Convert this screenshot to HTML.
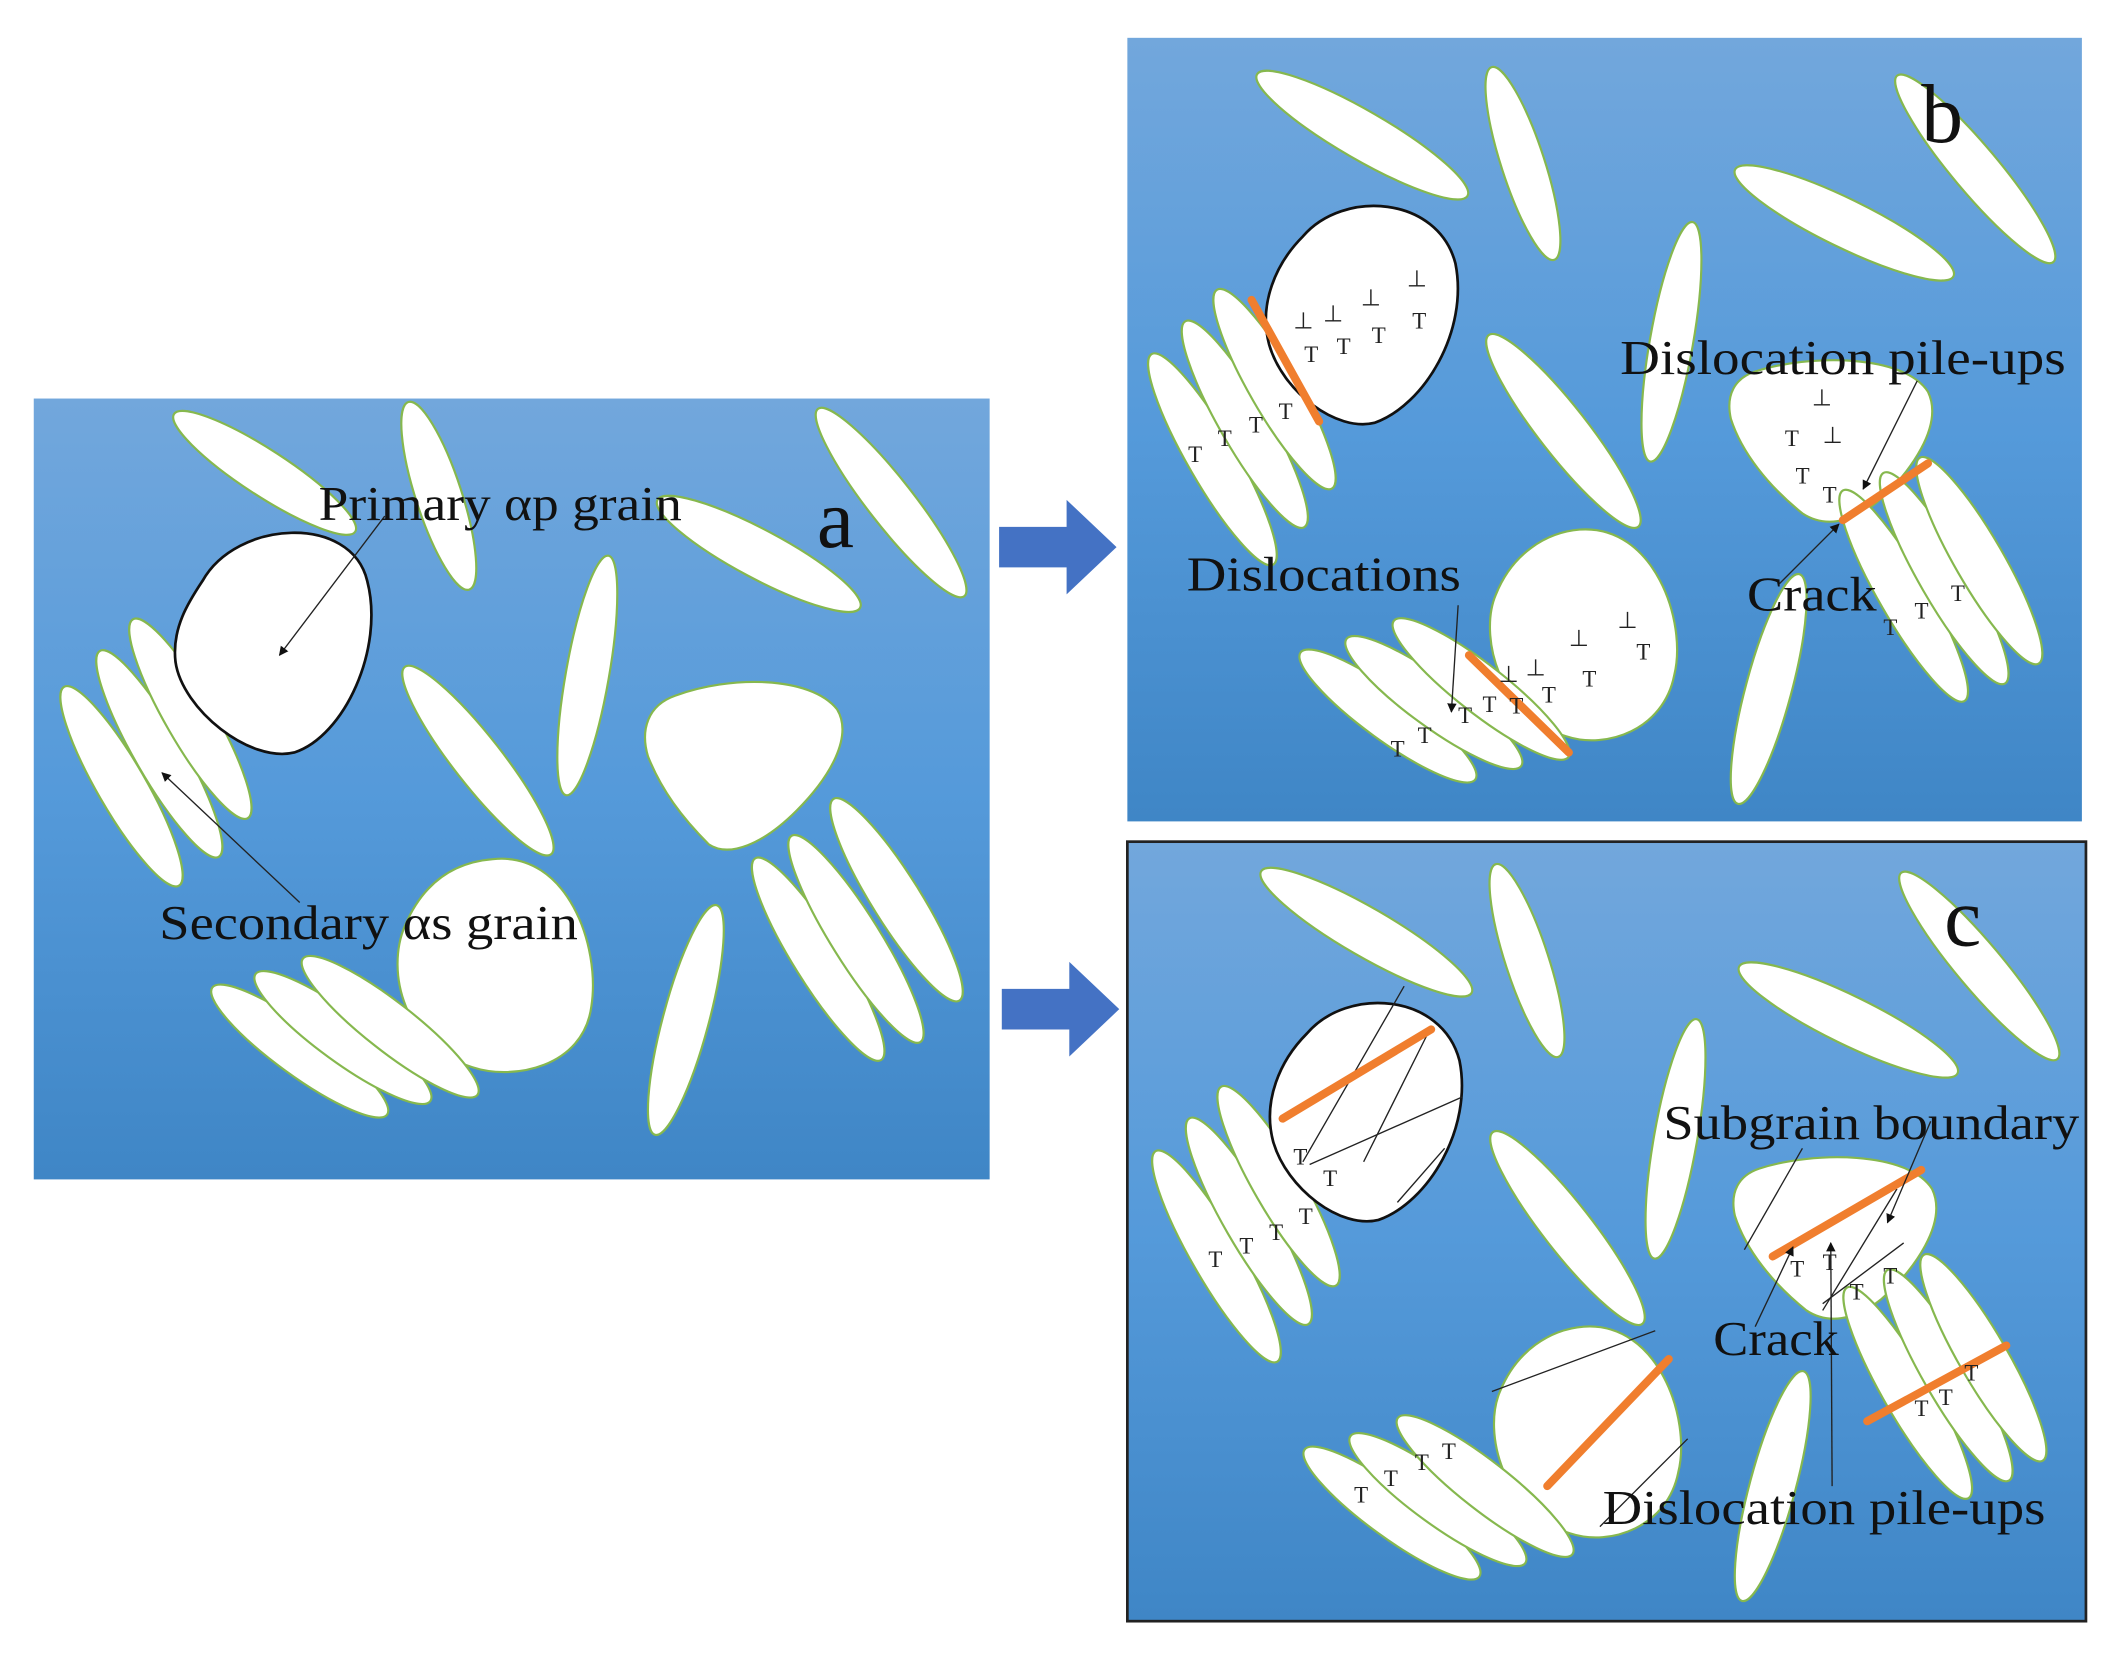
<!DOCTYPE html>
<html><head><meta charset="utf-8"><style>
html,body{margin:0;padding:0;background:#fff;width:2117px;height:1659px;overflow:hidden}
svg{display:block}
.g{fill:#fff;stroke:#86b84e;stroke-width:1.6}
.k{fill:#fff;stroke:#111;stroke-width:2}
.o{stroke:#f07e2e;stroke-width:6;stroke-linecap:round}
.t{font-family:"Liberation Serif",serif;fill:#111}
.d{font-family:"Liberation Serif",serif;fill:#222;font-size:17px}
.l{stroke:#222;stroke-width:1}
</style></head><body>
<svg width="2117" height="1659" viewBox="0 0 1568 1228" preserveAspectRatio="none">
<defs>
<linearGradient id="bg" x1="0" y1="0" x2="0" y2="1">
<stop offset="0" stop-color="#72a7dc"/><stop offset="0.5" stop-color="#559ada"/><stop offset="1" stop-color="#3f86c6"/>
</linearGradient>
<marker id="ah" viewBox="0 0 10 10" refX="9" refY="5" markerWidth="7" markerHeight="7" orient="auto"><path d="M0,0 L10,5 L0,10 z" fill="#111"/></marker>
<g id="base">
<ellipse class="g" transform="translate(1009,100) rotate(30)" rx="90" ry="18"/>
<ellipse class="g" transform="translate(1128,121) rotate(72)" rx="75" ry="16"/>
<ellipse class="g" transform="translate(1366,165) rotate(26)" rx="90" ry="18"/>
<ellipse class="g" transform="translate(1463,125) rotate(50)" rx="90" ry="17"/>
<ellipse class="g" transform="translate(1238,253) rotate(100)" rx="90" ry="16"/>
<ellipse class="g" transform="translate(1158,319) rotate(52)" rx="90" ry="18"/>
<ellipse class="g" transform="translate(898,340) rotate(60)" rx="90" ry="18"/>
<ellipse class="g" transform="translate(922,314) rotate(60)" rx="88" ry="18"/>
<ellipse class="g" transform="translate(944,288) rotate(60)" rx="85" ry="18"/>
<path class="k" d="M965,175 C995,140 1065,145 1078,195 C1088,245 1055,300 1018,313 C990,320 950,290 940,255 C932,225 945,195 965,175 Z"/>
<path class="g" d="M1170,392 C1225,388 1250,460 1240,500 C1232,540 1190,555 1160,545 C1110,530 1095,470 1108,440 C1120,410 1145,394 1170,392 Z"/>
<ellipse class="g" transform="translate(1028,530) rotate(36)" rx="80" ry="18"/>
<ellipse class="g" transform="translate(1062,520) rotate(36)" rx="80" ry="18"/>
<ellipse class="g" transform="translate(1097,510) rotate(38)" rx="82" ry="18"/>
<path class="g" d="M1300,275 C1340,262 1410,262 1428,290 C1440,315 1415,350 1390,372 C1370,388 1350,390 1335,380 C1310,360 1290,335 1282,310 C1278,292 1285,280 1300,275 Z"/>
<ellipse class="g" transform="translate(1410,441) rotate(60)" rx="90" ry="18"/>
<ellipse class="g" transform="translate(1440,428) rotate(60)" rx="90" ry="18"/>
<ellipse class="g" transform="translate(1466,415) rotate(60)" rx="88" ry="18"/>
<ellipse class="g" transform="translate(1310,510) rotate(105)" rx="88" ry="17"/>
</g>
</defs>

<!-- panel a -->
<rect x="25" y="295" width="708" height="578" fill="url(#bg)"/>
<ellipse class="g" transform="translate(196,350) rotate(33)" rx="80" ry="17"/>
<ellipse class="g" transform="translate(325,367) rotate(72)" rx="73" ry="17"/>
<ellipse class="g" transform="translate(562,410) rotate(28)" rx="85" ry="18"/>
<ellipse class="g" transform="translate(660,372) rotate(52)" rx="88" ry="17"/>
<ellipse class="g" transform="translate(435,500) rotate(100)" rx="90" ry="16"/>
<ellipse class="g" transform="translate(354,563) rotate(52)" rx="88" ry="18"/>
<ellipse class="g" transform="translate(90,582) rotate(60)" rx="85" ry="18"/>
<ellipse class="g" transform="translate(118,558) rotate(60)" rx="88" ry="18"/>
<ellipse class="g" transform="translate(141,532) rotate(60)" rx="85" ry="18"/>
<path class="k" d="M150,430 C175,385 260,380 272,430 C285,480 255,545 218,557 C185,565 135,525 130,490 C127,465 140,445 150,430 Z"/>
<path class="g" d="M365,636 C420,630 445,700 438,745 C432,790 380,800 350,790 C300,775 285,720 300,685 C315,650 340,638 365,636 Z"/>
<ellipse class="g" transform="translate(222,778) rotate(36)" rx="80" ry="18"/>
<ellipse class="g" transform="translate(254,768) rotate(36)" rx="80" ry="18"/>
<ellipse class="g" transform="translate(289,760) rotate(38)" rx="82" ry="18"/>
<path class="g" d="M500,515 C540,500 600,500 620,525 C632,545 615,575 590,600 C565,625 540,635 525,625 C505,605 490,585 480,560 C474,540 480,522 500,515 Z"/>
<ellipse class="g" transform="translate(606,710) rotate(58)" rx="88" ry="18"/>
<ellipse class="g" transform="translate(634,695) rotate(58)" rx="90" ry="18"/>
<ellipse class="g" transform="translate(664,666) rotate(58)" rx="88" ry="18"/>
<ellipse class="g" transform="translate(508,755) rotate(105)" rx="88" ry="17"/>
<line class="l" x1="285" y1="382" x2="207" y2="485" marker-end="url(#ah)"/>
<line class="l" x1="222" y1="668" x2="120" y2="572" marker-end="url(#ah)"/>
<text class="t" x="236" y="385" font-size="36" textLength="269" lengthAdjust="spacingAndGlyphs">Primary αp grain</text>
<text class="t" x="118" y="695" font-size="36" textLength="310" lengthAdjust="spacingAndGlyphs">Secondary αs grain</text>
<text class="t" x="605" y="405" font-size="62">a</text>

<!-- arrows -->
<path d="M740,390 H790 V370 L827,405 L790,440 V420 H740 Z" fill="#4472c4"/>
<path d="M742,732 H792 V712 L829,747 L792,782 V762 H742 Z" fill="#4472c4"/>

<!-- panel b -->
<rect x="835" y="28" width="707" height="580" fill="url(#bg)"/>
<use href="#base"/>
<line class="o" x1="927" y1="222" x2="977" y2="312"/>
<line class="o" x1="1088" y1="485" x2="1162" y2="557"/>
<line class="o" x1="1365" y1="385" x2="1428" y2="343"/>
<g class="d">
<text x="958" y="243">⊥</text><text x="980" y="238">⊥</text><text x="1008" y="226">⊥</text><text x="1042" y="212">⊥</text>
<text x="966" y="268">T</text><text x="990" y="262">T</text><text x="1016" y="254">T</text><text x="1046" y="243">T</text>
<text x="880" y="342">T</text><text x="902" y="330">T</text><text x="925" y="320">T</text><text x="947" y="310">T</text>
<text x="1110" y="505">⊥</text><text x="1130" y="500">⊥</text><text x="1162" y="478">⊥</text><text x="1198" y="465">⊥</text>
<text x="1118" y="528">T</text><text x="1142" y="520">T</text><text x="1172" y="508">T</text><text x="1212" y="488">T</text>
<text x="1030" y="560">T</text><text x="1050" y="550">T</text><text x="1080" y="535">T</text><text x="1098" y="527">T</text>
<text x="1342" y="300">⊥</text><text x="1322" y="330">T</text><text x="1350" y="328">⊥</text><text x="1330" y="358">T</text><text x="1350" y="372">T</text>
<text x="1395" y="470">T</text><text x="1418" y="458">T</text><text x="1445" y="445">T</text>
</g>
<line class="l" x1="1420" y1="282" x2="1380" y2="362" marker-end="url(#ah)"/>
<line class="l" x1="1318" y1="432" x2="1362" y2="388" marker-end="url(#ah)"/>
<line class="l" x1="1080" y1="448" x2="1075" y2="527" marker-end="url(#ah)"/>
<text class="t" x="1200" y="277" font-size="36" textLength="330" lengthAdjust="spacingAndGlyphs">Dislocation pile-ups</text>
<text class="t" x="1294" y="452" font-size="36" textLength="96" lengthAdjust="spacingAndGlyphs">Crack</text>
<text class="t" x="879" y="437" font-size="36" textLength="203" lengthAdjust="spacingAndGlyphs">Dislocations</text>
<text class="t" x="1423" y="105" font-size="62">b</text>

<!-- panel c -->
<rect x="835" y="623" width="710" height="577" fill="url(#bg)" stroke="#222" stroke-width="2"/>
<use href="#base" transform="translate(3,590)"/>
<line class="l" x1="1040" y1="730" x2="965" y2="860"/>
<line class="l" x1="1060" y1="760" x2="1010" y2="860"/>
<line class="l" x1="1083" y1="812" x2="970" y2="862"/>
<line class="l" x1="1070" y1="850" x2="1035" y2="890"/>
<line class="o" x1="950" y1="828" x2="1060" y2="762"/>
<line class="l" x1="1335" y1="850" x2="1292" y2="925"/>
<line class="l" x1="1405" y1="880" x2="1350" y2="970"/>
<line class="l" x1="1350" y1="965" x2="1410" y2="920"/>
<line class="o" x1="1313" y1="930" x2="1423" y2="866"/>
<line class="l" x1="1105" y1="1030" x2="1226" y2="985"/>
<line class="l" x1="1185" y1="1130" x2="1250" y2="1065"/>
<line class="o" x1="1146" y1="1100" x2="1236" y2="1006"/>
<line class="o" x1="1383" y1="1052" x2="1486" y2="996"/>
<g class="d">
<text x="958" y="862">T</text><text x="980" y="878">T</text>
<text x="895" y="938">T</text><text x="918" y="928">T</text><text x="940" y="918">T</text><text x="962" y="906">T</text>
<text x="1003" y="1112">T</text><text x="1025" y="1100">T</text><text x="1048" y="1088">T</text><text x="1068" y="1080">T</text>
<text x="1326" y="945">T</text><text x="1350" y="940">T</text><text x="1370" y="962">T</text><text x="1395" y="950">T</text>
<text x="1418" y="1048">T</text><text x="1436" y="1040">T</text><text x="1455" y="1022">T</text>
</g>
<line class="l" x1="1430" y1="830" x2="1398" y2="905" marker-end="url(#ah)"/>
<line class="l" x1="1300" y1="982" x2="1328" y2="923" marker-end="url(#ah)"/>
<line class="l" x1="1357" y1="1100" x2="1356" y2="920" marker-end="url(#ah)"/>
<text class="t" x="1232" y="843" font-size="36" textLength="308" lengthAdjust="spacingAndGlyphs">Subgrain boundary</text>
<text class="t" x="1269" y="1003" font-size="36" textLength="93" lengthAdjust="spacingAndGlyphs">Crack</text>
<text class="t" x="1187" y="1128" font-size="36" textLength="328" lengthAdjust="spacingAndGlyphs">Dislocation pile-ups</text>
<text class="t" x="1440" y="700" font-size="62">c</text>
</svg>
</body></html>
